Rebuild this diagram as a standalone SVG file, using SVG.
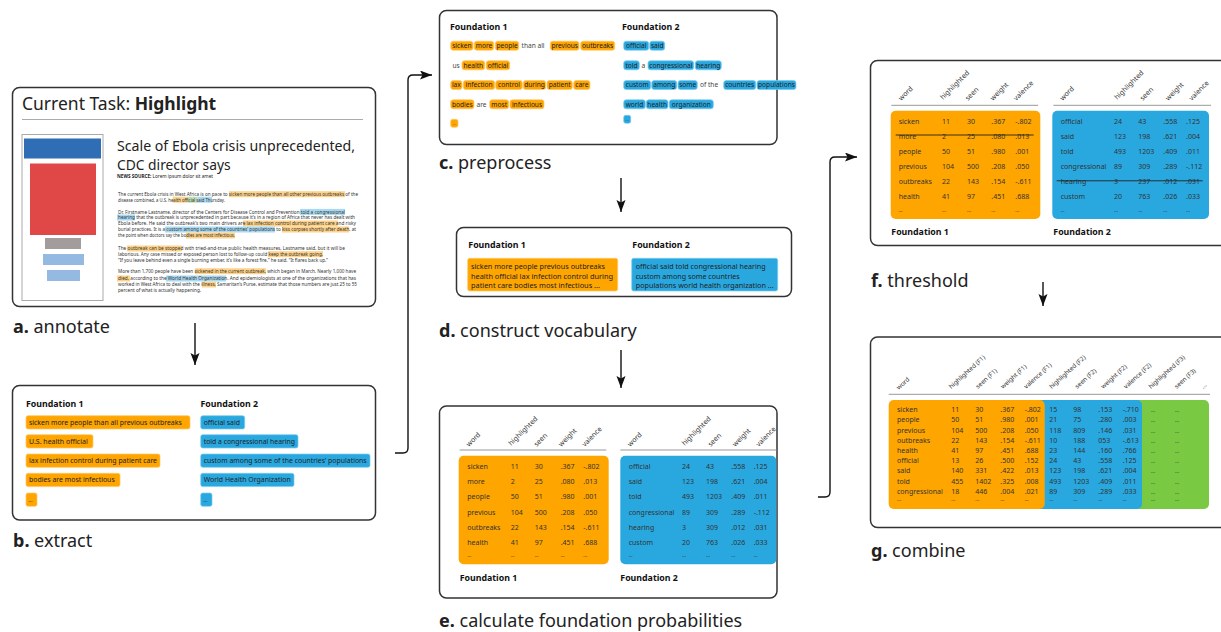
<svg xmlns="http://www.w3.org/2000/svg" width="1221" height="632" viewBox="0 0 1221 632">
<defs>
<marker id="arr" markerUnits="userSpaceOnUse" markerWidth="13" markerHeight="10" refX="12" refY="4.5" orient="auto">
<path d="M0,0 L12,4.5 L0,9 L2.5,4.5 z" fill="#111"/>
</marker>
<style>
text{font-family:"Noto Sans","DejaVu Sans",sans-serif;fill:#222}
.box{fill:#fff;stroke:#333;stroke-width:1.5}
.lbl{font-size:18px;fill:#222}
.lbl tspan.b{font-weight:bold}
.fh{font-size:8.8px;font-weight:bold;fill:#111}
.ch{font-size:7.2px;fill:#222}
.cw{font-size:6.6px;fill:#222;text-anchor:middle}
.cp{font-size:6.6px;fill:#444}
.or{fill:#FFA500}
.bl{fill:#29A8E0}
.gr{fill:#7AC943}
.oc{fill:#FFA500;stroke:#FFC766;stroke-width:0.7}
.bc{fill:#29A8E0;stroke:#7DCBEF;stroke-width:0.7}
.hl{stroke:#999;stroke-width:1}
.t{font-size:7px;fill:#333}
.tg{font-size:7px;fill:#333}
.hd{font-size:7px;fill:#333}
.hg{font-size:6.3px;fill:#333}
.art{font-size:4.6px;fill:#333}
.ho{fill:#FFD38A}
.hb{fill:#A9DAF3}
.hgr{fill:#BFDDAE}
.con{fill:none;stroke:#111;stroke-width:1.4}
.st{stroke:#222;stroke-width:0.9}
</style>
</defs>
<rect width="1221" height="632" fill="#fff"/>

<g id="connectors">
<path class="con" d="M195,323 V365" marker-end="url(#arr)"/>
<path class="con" d="M395,453 H403 Q408,453 408,448 V80 Q408,75 413,75 H432" marker-end="url(#arr)"/>
<path class="con" d="M621,178 V212" marker-end="url(#arr)"/>
<path class="con" d="M621,350 V388" marker-end="url(#arr)"/>
<path class="con" d="M818,497 H825 Q830,497 830,492 V162 Q830,157 835,157 H857" marker-end="url(#arr)"/>
<path class="con" d="M1043,282 V306" marker-end="url(#arr)"/>
</g>

<g id="node-a">
<rect class="box" x="12.5" y="87.5" width="363" height="219" rx="7"/>
<text x="22" y="110" style="font-size:17.5px">Current Task: <tspan font-weight="bold">Highlight</tspan></text>
<line x1="22" y1="119.5" x2="363" y2="119.5" stroke="#aaa" stroke-width="1.2"/>
<rect x="22" y="134.5" width="81" height="166" fill="#fff" stroke="#aaa" stroke-width="1"/>
<rect x="24" y="138.5" width="77" height="20" fill="#2F6DB5"/>
<rect x="30" y="163.5" width="66" height="71.5" fill="#E04848"/>
<rect x="45" y="238" width="36" height="11" fill="#A39C9C"/>
<rect x="43" y="254" width="41" height="11" fill="#95BAE2"/>
<rect x="47" y="270" width="33" height="11" fill="#95BAE2"/>
<text x="117" y="151" style="font-size:13.8px" textLength="238" lengthAdjust="spacingAndGlyphs">Scale of Ebola crisis unprecedented,</text>
<text x="117" y="169.5" style="font-size:13.8px">CDC director says</text>
<text x="117" y="177.8" style="font-size:4.8px" textLength="96" lengthAdjust="spacingAndGlyphs"><tspan font-weight="bold">NEWS SOURCE:</tspan> Lorem ipsum dolor sit amet</text>
<rect class="ho" x="229" y="191.2" width="116" height="6"/>
<rect class="ho" x="172.7" y="196.7" width="14.3" height="6"/>
<rect class="hgr" x="187" y="196.7" width="10.5" height="6"/>
<rect class="hb" x="197.5" y="196.7" width="14.5" height="6"/>
<rect class="hb" x="300" y="208.9" width="45" height="6"/>
<rect class="hb" x="117" y="214.5" width="18" height="6"/>
<rect class="ho" x="243" y="220.5" width="95" height="6"/>
<rect class="hb" x="165" y="226.5" width="110" height="6"/>
<rect class="ho" x="282" y="226.5" width="67" height="6"/>
<rect class="ho" x="186" y="232.5" width="49" height="6"/>
<rect class="ho" x="127" y="245.5" width="55" height="6"/>
<rect class="ho" x="268" y="251.2" width="55" height="6"/>
<rect class="ho" x="195" y="268.2" width="71" height="6"/>
<rect class="ho" x="117" y="275.5" width="13" height="6"/>
<rect class="hb" x="166" y="275.5" width="60" height="6"/>
<rect class="ho" x="202" y="281.5" width="14" height="6"/>
<text class="art" x="118" y="196" textLength="240" lengthAdjust="spacingAndGlyphs">The current Ebola crisis in West Africa is on pace to sicken more people than all other previous outbreaks of the</text>
<text class="art" x="118" y="201.5" textLength="107" lengthAdjust="spacingAndGlyphs">disease combined, a U.S. health official said Thursday.</text>
<text class="art" x="118" y="213.7" textLength="227" lengthAdjust="spacingAndGlyphs">Dr. Firstname Lastname, director of the Centers for Disease Control and Prevention told a congressional</text>
<text class="art" x="118" y="219.3" textLength="237" lengthAdjust="spacingAndGlyphs">hearing that the outbreak is unprecedented in part because it’s in a region of Africa that never has dealt with</text>
<text class="art" x="118" y="225.3" textLength="238" lengthAdjust="spacingAndGlyphs">Ebola before. He said the outbreak’s two main drivers are lax infection control during patient care and risky</text>
<text class="art" x="118" y="231.3" textLength="238" lengthAdjust="spacingAndGlyphs">burial practices. It is a custom among some of the countries’ populations to kiss corpses shortly after death, at</text>
<text class="art" x="118" y="237.3" textLength="117" lengthAdjust="spacingAndGlyphs">the point when doctors say the bodies are most infectious.</text>
<text class="art" x="118" y="250.3" textLength="227" lengthAdjust="spacingAndGlyphs">The outbreak can be stopped with tried-and-true public health measures, Lastname said, but it will be</text>
<text class="art" x="118" y="256" textLength="205" lengthAdjust="spacingAndGlyphs">laborious. Any case missed or exposed person lost to follow-up could keep the outbreak going.</text>
<text class="art" x="118" y="262" textLength="210" lengthAdjust="spacingAndGlyphs">“If you leave behind even a single burning ember, it’s like a forest fire,” he said. “It flares back up.”</text>
<text class="art" x="118" y="273" textLength="238" lengthAdjust="spacingAndGlyphs">More than 1,700 people have been sickened in the current outbreak, which began in March. Nearly 1,000 have</text>
<text class="art" x="118" y="280.3" textLength="238" lengthAdjust="spacingAndGlyphs">died, according to the World Health Organization. And epidemiologists at one of the organizations that has</text>
<text class="art" x="118" y="286.3" textLength="239" lengthAdjust="spacingAndGlyphs">worked in West Africa to deal with the illness, Samaritan’s Purse, estimate that those numbers are just 25 to 55</text>
<text class="art" x="118" y="292" textLength="83" lengthAdjust="spacingAndGlyphs">percent of what is actually happening.</text>
<text class="lbl" x="13" y="333"><tspan class="b">a.</tspan> annotate</text>
</g>

<g id="node-b">
<rect class="box" x="12.5" y="385.5" width="363" height="134.5" rx="7"/>
<text class="fh" x="26" y="407">Foundation 1</text>
<text class="fh" x="200.5" y="407">Foundation 2</text>
<rect class="oc" x="26" y="415.7" width="164" height="13.3" rx="2"/>
<rect class="oc" x="26" y="434.7" width="67" height="13.3" rx="2"/>
<rect class="oc" x="26" y="454" width="134" height="13.3" rx="2"/>
<rect class="oc" x="26" y="473.3" width="94" height="13.3" rx="2"/>
<rect class="oc" x="26" y="493" width="11" height="13.3" rx="2"/>
<rect class="bc" x="200.7" y="415.7" width="44" height="13.3" rx="2"/>
<rect class="bc" x="200.7" y="434.7" width="97.3" height="13.3" rx="2"/>
<rect class="bc" x="200.7" y="454" width="169.3" height="13.3" rx="2"/>
<rect class="bc" x="200.7" y="473.3" width="93.3" height="13.3" rx="2"/>
<rect class="bc" x="200.7" y="493" width="11.3" height="13.3" rx="2"/>
<text class="ch" x="29" y="424.8" textLength="152.7" lengthAdjust="spacingAndGlyphs">sicken more people than all previous outbreaks</text>
<text class="ch" x="29" y="443.8" textLength="58.7" lengthAdjust="spacingAndGlyphs">U.S. health official</text>
<text class="ch" x="29" y="463.1" textLength="128" lengthAdjust="spacingAndGlyphs">lax infection control during patient care</text>
<text class="ch" x="29" y="482.4" textLength="85.7" lengthAdjust="spacingAndGlyphs">bodies are most infectious</text>
<text class="ch" x="28.5" y="502" style="font-size:5px">...</text>
<text class="ch" x="203.7" y="424.8" textLength="36.3" lengthAdjust="spacingAndGlyphs">official said</text>
<text class="ch" x="203.7" y="443.8" textLength="91.3" lengthAdjust="spacingAndGlyphs">told a congressional hearing</text>
<text class="ch" x="203.7" y="463.1" textLength="163" lengthAdjust="spacingAndGlyphs">custom among some of the countries’ populations</text>
<text class="ch" x="203.7" y="482.4" textLength="87" lengthAdjust="spacingAndGlyphs">World Health Organization</text>
<text class="ch" x="203.3" y="502" style="font-size:5px">...</text>
<text class="lbl" x="13" y="547"><tspan class="b">b.</tspan> extract</text>
</g>

<g id="node-c">
<rect class="box" x="439.5" y="10.5" width="337.5" height="134" rx="7"/>
<text class="fh" x="450" y="30">Foundation 1</text>
<text class="fh" x="622" y="30">Foundation 2</text>
<g>
<rect class="oc" x="450.7" y="41.2" width="22.3" height="9" rx="2.5"/><text class="cw" x="461.85" y="48.1">sicken</text>
<rect class="oc" x="474.3" y="41.2" width="19.4" height="9" rx="2.5"/><text class="cw" x="484" y="48.1">more</text>
<rect class="oc" x="495.3" y="41.2" width="23.4" height="9" rx="2.5"/><text class="cw" x="507" y="48.1">people</text>
<text class="cp" x="521.5" y="48.1">than all</text>
<rect class="oc" x="550.3" y="41.2" width="28.7" height="9" rx="2.5"/><text class="cw" x="564.65" y="48.1">previous</text>
<rect class="oc" x="580.7" y="41.2" width="34" height="9" rx="2.5"/><text class="cw" x="597.7" y="48.1">outbreaks</text>
<text class="cp" x="452.5" y="67.7">us</text>
<rect class="oc" x="462" y="60.8" width="22.7" height="9" rx="2.5"/><text class="cw" x="473.35" y="67.7">health</text>
<rect class="oc" x="486.3" y="60.8" width="23.4" height="9" rx="2.5"/><text class="cw" x="498" y="67.7">official</text>
<rect class="oc" x="450.7" y="80.5" width="11.3" height="9" rx="2.5"/><text class="cw" x="456.35" y="87.4">lax</text>
<rect class="oc" x="463.3" y="80.5" width="31.4" height="9" rx="2.5"/><text class="cw" x="479" y="87.4">infection</text>
<rect class="oc" x="495.7" y="80.5" width="26.6" height="9" rx="2.5"/><text class="cw" x="509" y="87.4">control</text>
<rect class="oc" x="523.3" y="80.5" width="22.4" height="9" rx="2.5"/><text class="cw" x="534.5" y="87.4">during</text>
<rect class="oc" x="547" y="80.5" width="25.3" height="9" rx="2.5"/><text class="cw" x="559.65" y="87.4">patient</text>
<rect class="oc" x="573.7" y="80.5" width="16.3" height="9" rx="2.5"/><text class="cw" x="581.85" y="87.4">care</text>
<rect class="oc" x="450.7" y="99.8" width="23.3" height="9" rx="2.5"/><text class="cw" x="462.35" y="106.7">bodies</text>
<text class="cp" x="476.5" y="106.7">are</text>
<rect class="oc" x="489.7" y="99.8" width="19" height="9" rx="2.5"/><text class="cw" x="499.2" y="106.7">most</text>
<rect class="oc" x="510" y="99.8" width="34" height="9" rx="2.5"/><text class="cw" x="527" y="106.7">infectious</text>
<rect class="oc" x="450.7" y="119.3" width="7.3" height="8" rx="2"/><text class="cw" x="454.35" y="125" style="font-size:4px">...</text>
</g>
<g>
<rect class="bc" x="623.7" y="41.2" width="25" height="9" rx="2.5"/><text class="cw" x="636.2" y="48.1">official</text>
<rect class="bc" x="649.7" y="41.2" width="15" height="9" rx="2.5"/><text class="cw" x="657.2" y="48.1">said</text>
<rect class="bc" x="623.7" y="60.8" width="15.6" height="9" rx="2.5"/><text class="cw" x="631.5" y="67.7">told</text>
<text class="cp" x="641.6" y="67.7">a</text>
<rect class="bc" x="648" y="60.8" width="45.7" height="9" rx="2.5"/><text class="cw" x="670.85" y="67.7">congressional</text>
<rect class="bc" x="695.3" y="60.8" width="26" height="9" rx="2.5"/><text class="cw" x="708.3" y="67.7">hearing</text>
<rect class="bc" x="623.7" y="80.5" width="27" height="9" rx="2.5"/><text class="cw" x="637.2" y="87.4">custom</text>
<rect class="bc" x="651.7" y="80.5" width="25" height="9" rx="2.5"/><text class="cw" x="664.2" y="87.4">among</text>
<rect class="bc" x="678" y="80.5" width="19.3" height="9" rx="2.5"/><text class="cw" x="687.65" y="87.4">some</text>
<text class="cp" x="700" y="87.4">of the</text>
<rect class="bc" x="723.7" y="80.5" width="32" height="9" rx="2.5"/><text class="cw" x="739.7" y="87.4">countries</text>
<rect class="bc" x="757" y="80.5" width="39" height="9" rx="2.5"/><text class="cw" x="776.5" y="87.4">populations</text>
<rect class="bc" x="623.7" y="99.8" width="21.6" height="9" rx="2.5"/><text class="cw" x="634.5" y="106.7">world</text>
<rect class="bc" x="646.3" y="99.8" width="21.7" height="9" rx="2.5"/><text class="cw" x="657.15" y="106.7">health</text>
<rect class="bc" x="669.3" y="99.8" width="44" height="9" rx="2.5"/><text class="cw" x="691.3" y="106.7">organization</text>
<rect class="bc" x="623.7" y="115.3" width="7" height="8" rx="2"/><text class="cw" x="627.2" y="121" style="font-size:4px">...</text>
</g>
<text class="lbl" x="439" y="169"><tspan class="b">c.</tspan> preprocess</text>
</g>

<g id="node-d">
<rect class="box" x="456.5" y="227.5" width="335" height="69" rx="7"/>
<text class="fh" x="468.3" y="248">Foundation 1</text>
<text class="fh" x="632.3" y="248">Foundation 2</text>
<rect class="oc" x="467.7" y="258.3" width="150" height="32.7" rx="2"/>
<rect class="bc" x="631.7" y="258.3" width="146" height="32.7" rx="2"/>
<text class="ch" x="471" y="269" textLength="134" lengthAdjust="spacingAndGlyphs">sicken more people previous outbreaks</text>
<text class="ch" x="471" y="278.5" textLength="142" lengthAdjust="spacingAndGlyphs">health official lax infection control during</text>
<text class="ch" x="471" y="288" textLength="129" lengthAdjust="spacingAndGlyphs">patient care bodies most infectious ...</text>
<text class="ch" x="635.7" y="269" textLength="130" lengthAdjust="spacingAndGlyphs">official said told congressional hearing</text>
<text class="ch" x="635.7" y="278.5" textLength="104" lengthAdjust="spacingAndGlyphs">custom among some countries</text>
<text class="ch" x="635.7" y="288" textLength="138" lengthAdjust="spacingAndGlyphs">populations world health organization ...</text>
<text class="lbl" x="439" y="337"><tspan class="b">d.</tspan> construct vocabulary</text>
</g>

<g id="node-e">
<rect class="box" x="439.5" y="406" width="337.5" height="192" rx="7"/>
<g class="hd">
<text class="hd" transform="translate(469,447) rotate(-45)">word</text>
<text class="hd" transform="translate(511.3,446) rotate(-45)">highlighted</text>
<text class="hd" transform="translate(536.7,447) rotate(-45)">seen</text>
<text class="hd" transform="translate(561.3,447) rotate(-45)">weight</text>
<text class="hd" transform="translate(584.7,447) rotate(-45)">valence</text>
<text class="hd" transform="translate(630.3,447) rotate(-45)">word</text>
<text class="hd" transform="translate(684.7,446) rotate(-45)">highlighted</text>
<text class="hd" transform="translate(710.7,447) rotate(-45)">seen</text>
<text class="hd" transform="translate(735.3,447) rotate(-45)">weight</text>
<text class="hd" transform="translate(758.7,447) rotate(-45)">valence</text>
</g>
<line class="hl" x1="459.7" y1="450" x2="606.3" y2="450"/>
<line class="hl" x1="620.3" y1="450" x2="776.5" y2="450"/>
<rect class="or" x="458.7" y="455.7" width="150" height="108.6" rx="5"/>
<rect class="bl" x="620.3" y="455.7" width="156" height="108.6" rx="5"/>
<g class="t">
<text class="t" x="467.3" y="469">sicken</text><text class="t" x="510.7" y="469">11</text><text class="t" x="534.7" y="469">30</text><text class="t" x="560.7" y="469">.367</text><text class="t" x="583.3" y="469">-.802</text>
<text class="t" x="467.3" y="484.2">more</text><text class="t" x="510.7" y="484.2">2</text><text class="t" x="534.7" y="484.2">25</text><text class="t" x="560.7" y="484.2">.080</text><text class="t" x="583.3" y="484.2">.013</text>
<text class="t" x="467.3" y="499.4">people</text><text class="t" x="510.7" y="499.4">50</text><text class="t" x="534.7" y="499.4">51</text><text class="t" x="560.7" y="499.4">.980</text><text class="t" x="583.3" y="499.4">.001</text>
<text class="t" x="467.3" y="514.6">previous</text><text class="t" x="510.7" y="514.6">104</text><text class="t" x="534.7" y="514.6">500</text><text class="t" x="560.7" y="514.6">.208</text><text class="t" x="583.3" y="514.6">.050</text>
<text class="t" x="467.3" y="529.8">outbreaks</text><text class="t" x="510.7" y="529.8">22</text><text class="t" x="534.7" y="529.8">143</text><text class="t" x="560.7" y="529.8">.154</text><text class="t" x="583.3" y="529.8">-.611</text>
<text class="t" x="467.3" y="545">health</text><text class="t" x="510.7" y="545">41</text><text class="t" x="534.7" y="545">97</text><text class="t" x="560.7" y="545">.451</text><text class="t" x="583.3" y="545">.688</text>
<text class="t" x="467.3" y="557" style="font-size:5px">...</text><text class="t" x="510.7" y="557" style="font-size:5px">...</text><text class="t" x="534.7" y="557" style="font-size:5px">...</text><text class="t" x="560.7" y="557" style="font-size:5px">...</text><text class="t" x="583.3" y="557" style="font-size:5px">...</text>
<text class="t" x="628.7" y="469">official</text><text class="t" x="682" y="469">24</text><text class="t" x="706" y="469">43</text><text class="t" x="731.3" y="469">.558</text><text class="t" x="753.7" y="469">.125</text>
<text class="t" x="628.7" y="484.2">said</text><text class="t" x="682" y="484.2">123</text><text class="t" x="706" y="484.2">198</text><text class="t" x="731.3" y="484.2">.621</text><text class="t" x="753.7" y="484.2">.004</text>
<text class="t" x="628.7" y="499.4">told</text><text class="t" x="682" y="499.4">493</text><text class="t" x="706" y="499.4">1203</text><text class="t" x="731.3" y="499.4">.409</text><text class="t" x="753.7" y="499.4">.011</text>
<text class="t" x="628.7" y="514.6">congressional</text><text class="t" x="682" y="514.6">89</text><text class="t" x="706" y="514.6">309</text><text class="t" x="731.3" y="514.6">.289</text><text class="t" x="753.7" y="514.6">-.112</text>
<text class="t" x="628.7" y="529.8">hearing</text><text class="t" x="682" y="529.8">3</text><text class="t" x="706" y="529.8">309</text><text class="t" x="731.3" y="529.8">.012</text><text class="t" x="753.7" y="529.8">.031</text>
<text class="t" x="628.7" y="545">custom</text><text class="t" x="682" y="545">20</text><text class="t" x="706" y="545">763</text><text class="t" x="731.3" y="545">.026</text><text class="t" x="753.7" y="545">.033</text>
<text class="t" x="628.7" y="557" style="font-size:5px">...</text><text class="t" x="682" y="557" style="font-size:5px">...</text><text class="t" x="706" y="557" style="font-size:5px">...</text><text class="t" x="731.3" y="557" style="font-size:5px">...</text><text class="t" x="753.7" y="557" style="font-size:5px">...</text>
</g>
<text class="fh" x="459.7" y="581">Foundation 1</text>
<text class="fh" x="620.3" y="581">Foundation 2</text>
<text class="lbl" x="439" y="627"><tspan class="b">e.</tspan> calculate foundation probabilities</text>
</g>

<g id="node-f">
<rect class="box" x="870.5" y="60.5" width="360" height="185" rx="7"/>
<text class="hd" transform="translate(901.3,101) rotate(-45)">word</text>
<text class="hd" transform="translate(943,100) rotate(-45)">highlighted</text>
<text class="hd" transform="translate(968,101) rotate(-45)">seen</text>
<text class="hd" transform="translate(993,101) rotate(-45)">weight</text>
<text class="hd" transform="translate(1016.3,101) rotate(-45)">valence</text>
<text class="hd" transform="translate(1062.7,101) rotate(-45)">word</text>
<text class="hd" transform="translate(1117.3,100) rotate(-45)">highlighted</text>
<text class="hd" transform="translate(1142.7,101) rotate(-45)">seen</text>
<text class="hd" transform="translate(1168.3,101) rotate(-45)">weight</text>
<text class="hd" transform="translate(1191.7,101) rotate(-45)">valence</text>
<line class="hl" x1="891.3" y1="105.3" x2="1038" y2="105.3"/>
<line class="hl" x1="1053.3" y1="105.3" x2="1211" y2="105.3"/>
<rect class="or" x="890.7" y="110.7" width="149.6" height="108.3" rx="5"/>
<rect class="bl" x="1052.3" y="110.7" width="156.7" height="108.3" rx="5"/>
<g>
<text class="t" x="898.7" y="123.5">sicken</text><text class="t" x="942" y="123.5">11</text><text class="t" x="967" y="123.5">30</text><text class="t" x="991.3" y="123.5">.367</text><text class="t" x="1015.3" y="123.5">-.802</text>
<text class="t" x="898.7" y="138.6">more</text><text class="t" x="942" y="138.6">2</text><text class="t" x="967" y="138.6">25</text><text class="t" x="991.3" y="138.6">.080</text><text class="t" x="1015.3" y="138.6">.013</text>
<text class="t" x="898.7" y="153.9">people</text><text class="t" x="942" y="153.9">50</text><text class="t" x="967" y="153.9">51</text><text class="t" x="991.3" y="153.9">.980</text><text class="t" x="1015.3" y="153.9">.001</text>
<text class="t" x="898.7" y="169.1">previous</text><text class="t" x="942" y="169.1">104</text><text class="t" x="967" y="169.1">500</text><text class="t" x="991.3" y="169.1">.208</text><text class="t" x="1015.3" y="169.1">.050</text>
<text class="t" x="898.7" y="184.2">outbreaks</text><text class="t" x="942" y="184.2">22</text><text class="t" x="967" y="184.2">143</text><text class="t" x="991.3" y="184.2">.154</text><text class="t" x="1015.3" y="184.2">-.611</text>
<text class="t" x="898.7" y="199.3">health</text><text class="t" x="942" y="199.3">41</text><text class="t" x="967" y="199.3">97</text><text class="t" x="991.3" y="199.3">.451</text><text class="t" x="1015.3" y="199.3">.688</text>
<text class="t" x="898.7" y="211.8" style="font-size:5px">...</text><text class="t" x="942" y="211.8" style="font-size:5px">...</text><text class="t" x="967" y="211.8" style="font-size:5px">...</text><text class="t" x="991.3" y="211.8" style="font-size:5px">...</text><text class="t" x="1015.3" y="211.8" style="font-size:5px">...</text>
<text class="t" x="1060.7" y="123.5">official</text><text class="t" x="1114" y="123.5">24</text><text class="t" x="1138.3" y="123.5">43</text><text class="t" x="1163.3" y="123.5">.558</text><text class="t" x="1186" y="123.5">.125</text>
<text class="t" x="1060.7" y="138.6">said</text><text class="t" x="1114" y="138.6">123</text><text class="t" x="1138.3" y="138.6">198</text><text class="t" x="1163.3" y="138.6">.621</text><text class="t" x="1186" y="138.6">.004</text>
<text class="t" x="1060.7" y="153.9">told</text><text class="t" x="1114" y="153.9">493</text><text class="t" x="1138.3" y="153.9">1203</text><text class="t" x="1163.3" y="153.9">.409</text><text class="t" x="1186" y="153.9">.011</text>
<text class="t" x="1060.7" y="169.1">congressional</text><text class="t" x="1114" y="169.1">89</text><text class="t" x="1138.3" y="169.1">309</text><text class="t" x="1163.3" y="169.1">.289</text><text class="t" x="1186" y="169.1">-.112</text>
<text class="t" x="1060.7" y="184.2">hearing</text><text class="t" x="1114" y="184.2">3</text><text class="t" x="1138.3" y="184.2">237</text><text class="t" x="1163.3" y="184.2">.012</text><text class="t" x="1186" y="184.2">.031</text>
<text class="t" x="1060.7" y="199.3">custom</text><text class="t" x="1114" y="199.3">20</text><text class="t" x="1138.3" y="199.3">763</text><text class="t" x="1163.3" y="199.3">.026</text><text class="t" x="1186" y="199.3">.033</text>
<text class="t" x="1060.7" y="211.8" style="font-size:5px">...</text><text class="t" x="1114" y="211.8" style="font-size:5px">...</text><text class="t" x="1138.3" y="211.8" style="font-size:5px">...</text><text class="t" x="1163.3" y="211.8" style="font-size:5px">...</text><text class="t" x="1186" y="211.8" style="font-size:5px">...</text>
</g>
<line class="st" x1="895.7" y1="135" x2="1033.7" y2="135"/>
<line class="st" x1="1056.7" y1="180.8" x2="1202.7" y2="180.8"/>
<text class="fh" x="891.3" y="234.7">Foundation 1</text>
<text class="fh" x="1053.3" y="234.7">Foundation 2</text>
<text class="lbl" x="871" y="287"><tspan class="b">f.</tspan> threshold</text>
</g>

<g id="node-g">
<rect class="box" x="870.5" y="337" width="360" height="190.5" rx="7"/>
<text class="hg" transform="translate(898.7,390) rotate(-42)">word</text>
<text class="hg" transform="translate(951.3,389) rotate(-42)">highlighted (F1)</text>
<text class="hg" transform="translate(978,389) rotate(-42)">seen (F1)</text>
<text class="hg" transform="translate(1003,389) rotate(-42)">weight (F1)</text>
<text class="hg" transform="translate(1026.3,389) rotate(-42)">valence (F1)</text>
<text class="hg" transform="translate(1051.7,389) rotate(-42)">highlighted (F2)</text>
<text class="hg" transform="translate(1077.3,389) rotate(-42)">seen (F2)</text>
<text class="hg" transform="translate(1103.3,389) rotate(-42)">weight (F2)</text>
<text class="hg" transform="translate(1126,389) rotate(-42)">valence (F2)</text>
<text class="hg" transform="translate(1151,389) rotate(-42)">highlighted (F3)</text>
<text class="hg" transform="translate(1176.7,389) rotate(-42)">seen (F3)</text>
<text class="hg" transform="translate(1203.3,389) rotate(-42)">...</text>
<line class="hl" x1="888.7" y1="394.3" x2="1210" y2="394.3"/>
<rect class="gr" x="1120" y="400" width="89" height="109" rx="5"/>
<rect class="bl" x="1030" y="400" width="112" height="109" rx="5"/>
<rect class="or" x="888.7" y="400" width="156" height="109" rx="5"/>
<g>
<text class="tg" x="897" y="412.2">sicken</text><text class="tg" x="951.3" y="412.2">11</text><text class="tg" x="975.3" y="412.2">30</text><text class="tg" x="1000.3" y="412.2">.367</text><text class="tg" x="1024.7" y="412.2">-.802</text><text class="tg" x="1049.3" y="412.2">15</text><text class="tg" x="1073.3" y="412.2">98</text><text class="tg" x="1098.3" y="412.2">.153</text><text class="tg" x="1122.7" y="412.2">-.710</text><text class="tg" x="1151" y="412.2" style="font-size:5px">...</text><text class="tg" x="1175" y="412.2" style="font-size:5px">...</text>
<text class="tg" x="897" y="422.4">people</text><text class="tg" x="951.3" y="422.4">50</text><text class="tg" x="975.3" y="422.4">51</text><text class="tg" x="1000.3" y="422.4">.980</text><text class="tg" x="1024.7" y="422.4">.001</text><text class="tg" x="1049.3" y="422.4">21</text><text class="tg" x="1073.3" y="422.4">75</text><text class="tg" x="1098.3" y="422.4">.280</text><text class="tg" x="1122.7" y="422.4">.003</text><text class="tg" x="1151" y="422.4" style="font-size:5px">...</text><text class="tg" x="1175" y="422.4" style="font-size:5px">...</text>
<text class="tg" x="897" y="432.6">previous</text><text class="tg" x="951.3" y="432.6">104</text><text class="tg" x="975.3" y="432.6">500</text><text class="tg" x="1000.3" y="432.6">.208</text><text class="tg" x="1024.7" y="432.6">.050</text><text class="tg" x="1049.3" y="432.6">118</text><text class="tg" x="1073.3" y="432.6">809</text><text class="tg" x="1098.3" y="432.6">.146</text><text class="tg" x="1122.7" y="432.6">.031</text><text class="tg" x="1151" y="432.6" style="font-size:5px">...</text><text class="tg" x="1175" y="432.6" style="font-size:5px">...</text>
<text class="tg" x="897" y="442.8">outbreaks</text><text class="tg" x="951.3" y="442.8">22</text><text class="tg" x="975.3" y="442.8">143</text><text class="tg" x="1000.3" y="442.8">.154</text><text class="tg" x="1024.7" y="442.8">-.611</text><text class="tg" x="1049.3" y="442.8">10</text><text class="tg" x="1073.3" y="442.8">188</text><text class="tg" x="1098.3" y="442.8">053</text><text class="tg" x="1122.7" y="442.8">-.613</text><text class="tg" x="1151" y="442.8" style="font-size:5px">...</text><text class="tg" x="1175" y="442.8" style="font-size:5px">...</text>
<text class="tg" x="897" y="453">health</text><text class="tg" x="951.3" y="453">41</text><text class="tg" x="975.3" y="453">97</text><text class="tg" x="1000.3" y="453">.451</text><text class="tg" x="1024.7" y="453">.688</text><text class="tg" x="1049.3" y="453">23</text><text class="tg" x="1073.3" y="453">144</text><text class="tg" x="1098.3" y="453">.160</text><text class="tg" x="1122.7" y="453">.766</text><text class="tg" x="1151" y="453" style="font-size:5px">...</text><text class="tg" x="1175" y="453" style="font-size:5px">...</text>
<text class="tg" x="897" y="463.2">official</text><text class="tg" x="951.3" y="463.2">13</text><text class="tg" x="975.3" y="463.2">26</text><text class="tg" x="1000.3" y="463.2">.500</text><text class="tg" x="1024.7" y="463.2">.152</text><text class="tg" x="1049.3" y="463.2">24</text><text class="tg" x="1073.3" y="463.2">43</text><text class="tg" x="1098.3" y="463.2">.558</text><text class="tg" x="1122.7" y="463.2">.125</text><text class="tg" x="1151" y="463.2" style="font-size:5px">...</text><text class="tg" x="1175" y="463.2" style="font-size:5px">...</text>
<text class="tg" x="897" y="473.4">said</text><text class="tg" x="951.3" y="473.4">140</text><text class="tg" x="975.3" y="473.4">331</text><text class="tg" x="1000.3" y="473.4">.422</text><text class="tg" x="1024.7" y="473.4">.013</text><text class="tg" x="1049.3" y="473.4">123</text><text class="tg" x="1073.3" y="473.4">198</text><text class="tg" x="1098.3" y="473.4">.621</text><text class="tg" x="1122.7" y="473.4">.004</text><text class="tg" x="1151" y="473.4" style="font-size:5px">...</text><text class="tg" x="1175" y="473.4" style="font-size:5px">...</text>
<text class="tg" x="897" y="483.6">told</text><text class="tg" x="951.3" y="483.6">455</text><text class="tg" x="975.3" y="483.6">1402</text><text class="tg" x="1000.3" y="483.6">.325</text><text class="tg" x="1024.7" y="483.6">.008</text><text class="tg" x="1049.3" y="483.6">493</text><text class="tg" x="1073.3" y="483.6">1203</text><text class="tg" x="1098.3" y="483.6">.409</text><text class="tg" x="1122.7" y="483.6">.011</text><text class="tg" x="1151" y="483.6" style="font-size:5px">...</text><text class="tg" x="1175" y="483.6" style="font-size:5px">...</text>
<text class="tg" x="897" y="493.8">congressional</text><text class="tg" x="951.3" y="493.8">18</text><text class="tg" x="975.3" y="493.8">446</text><text class="tg" x="1000.3" y="493.8">.004</text><text class="tg" x="1024.7" y="493.8">.021</text><text class="tg" x="1049.3" y="493.8">89</text><text class="tg" x="1073.3" y="493.8">309</text><text class="tg" x="1098.3" y="493.8">.289</text><text class="tg" x="1122.7" y="493.8">.033</text><text class="tg" x="1151" y="493.8" style="font-size:5px">...</text><text class="tg" x="1175" y="493.8" style="font-size:5px">...</text>
<text class="tg" x="897" y="501" style="font-size:5px">...</text><text class="tg" x="951.3" y="501" style="font-size:5px">...</text><text class="tg" x="975.3" y="501" style="font-size:5px">...</text><text class="tg" x="1000.3" y="501" style="font-size:5px">...</text><text class="tg" x="1024.7" y="501" style="font-size:5px">...</text><text class="tg" x="1049.3" y="501" style="font-size:5px">...</text><text class="tg" x="1073.3" y="501" style="font-size:5px">...</text><text class="tg" x="1098.3" y="501" style="font-size:5px">...</text><text class="tg" x="1122.7" y="501" style="font-size:5px">...</text><text class="tg" x="1151" y="501" style="font-size:5px">...</text><text class="tg" x="1175" y="501" style="font-size:5px">...</text>
</g>
<text class="lbl" x="871" y="557"><tspan class="b">g.</tspan> combine</text>
</g>
</svg>
